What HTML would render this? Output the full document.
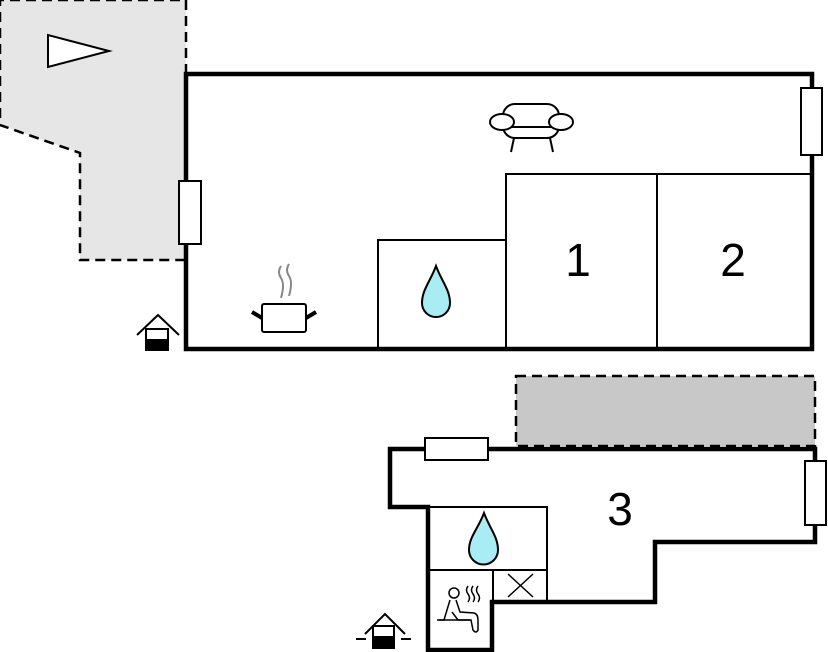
<!DOCTYPE html>
<html><head><meta charset="utf-8"><style>html,body{margin:0;padding:0;background:#fff}svg{display:block}</style></head>
<body>
<svg width="828" height="652" viewBox="0 0 828 652" xmlns="http://www.w3.org/2000/svg" font-family="Liberation Sans, sans-serif">
<!-- terrace top-left -->
<polygon points="0,0 186,0 186,260 80,260 80,153 0,125" fill="#e6e6e6"/>
<polyline points="186,74 186,0 0,0 0,125 80,153 80,260 186,260" fill="none" stroke="#000" stroke-width="2.5" stroke-dasharray="10,6"/>
<polygon points="48,35 48,67 109,51" fill="#fff" stroke="#000" stroke-width="2"/>
<!-- top building -->
<rect x="186" y="74" width="626" height="275" fill="#fff" stroke="#000" stroke-width="4.5"/>
<rect x="378" y="240" width="128" height="109" fill="none" stroke="#000" stroke-width="2"/>
<rect x="506" y="174" width="151" height="175" fill="none" stroke="#000" stroke-width="2"/>
<rect x="657" y="174" width="155" height="175" fill="none" stroke="#000" stroke-width="2"/>
<rect x="179" y="181" width="22" height="63" fill="#fff" stroke="#000" stroke-width="2"/>
<rect x="801" y="88" width="21" height="67" fill="#fff" stroke="#000" stroke-width="2"/>
<text x="578" y="276" font-size="46" text-anchor="middle">1</text>
<text x="733" y="276" font-size="46" text-anchor="middle">2</text>
<!-- sofa -->
<g fill="#fff" stroke="#000" stroke-width="2">
<rect x="503" y="104" width="56" height="34" rx="12"/>
<line x1="507" y1="127" x2="555" y2="127"/>
<ellipse cx="502" cy="122" rx="12" ry="8"/>
<ellipse cx="561" cy="122" rx="12" ry="8"/>
<line x1="514" y1="138" x2="511" y2="152"/>
<line x1="550" y1="138" x2="553" y2="152"/>
</g>
<!-- pot -->
<g stroke="#000" stroke-width="2" fill="#fff">
<rect x="262" y="304" width="44" height="28" rx="2"/>
<line x1="252" y1="312" x2="262" y2="318" stroke-width="4"/>
<line x1="316" y1="312" x2="306" y2="318" stroke-width="4"/>
</g>
<path d="M281,266 q-4,6 0,12 q4,6 0,20 M289,264 q-4,6 0,12 q4,6 0,20" fill="none" stroke="#888" stroke-width="2"/>
<!-- drop -->
<path d="M436,266 C430,282 422,290 422,303 A14,14 0 0 0 450,303 C450,290 442,282 436,266 Z" fill="#a8ecf4" stroke="#000" stroke-width="2"/>
<!-- entrance icon 1 -->
<g stroke="#000" stroke-width="2" fill="none">
<polyline points="137,335 158,315 179,335"/>
<rect x="146" y="329" width="22" height="21" fill="#fff"/>
<rect x="146" y="340" width="22" height="10" fill="#000"/>
</g>
<!-- bottom terrace -->
<rect x="516" y="376" width="299" height="70" fill="#c8c8c8" stroke="#000" stroke-width="2.5" stroke-dasharray="10,6"/>
<!-- bottom building -->
<polygon points="390,449 815,449 815,542 655,542 655,602 492,602 492,650 428,650 428,507 390,507" fill="#fff" stroke="#000" stroke-width="4.5"/>
<rect x="428" y="507" width="119" height="63" fill="none" stroke="#000" stroke-width="2"/>
<rect x="428" y="570" width="65" height="80" fill="none" stroke="#000" stroke-width="2"/>
<rect x="493" y="570" width="54" height="32" fill="none" stroke="#000" stroke-width="2"/>
<line x1="508" y1="574" x2="533" y2="597" stroke="#000" stroke-width="1.5"/>
<line x1="533" y1="574" x2="508" y2="597" stroke="#000" stroke-width="1.5"/>
<rect x="425" y="438" width="63" height="22" fill="#fff" stroke="#000" stroke-width="2"/>
<rect x="805" y="461" width="21" height="64" fill="#fff" stroke="#000" stroke-width="2"/>
<text x="620" y="525" font-size="46" text-anchor="middle">3</text>
<path d="M484,513 C478,529 469,537 469,550 A14,14 0 0 0 498,550 C498,537 490,529 484,513 Z" fill="#a8ecf4" stroke="#000" stroke-width="2"/>
<!-- sauna person -->
<g fill="none" stroke="#000" stroke-width="1.5">
<circle cx="454" cy="593" r="5"/>
<path d="M450,600 L444,620 L439,620 M456,600 L460,612 L474,613 Q478,614 478,620 L478,630 Q476,634 473,630 L471,620 L458,620 L452,612"/>
<line x1="437" y1="620" x2="470" y2="620"/>
<path d="M468,586 q-3,4 0,8 q3,4 0,8 M473,586 q-3,4 0,8 q3,4 0,8 M478,586 q-3,4 0,8 q3,4 0,8"/>
</g>
<!-- entrance icon 2 -->
<g stroke="#000" stroke-width="2" fill="none">
<polyline points="365,634 385,614 405,634"/>
<rect x="373" y="626" width="21" height="22" fill="#fff"/>
<rect x="373" y="637" width="21" height="11" fill="#000"/>
<line x1="356" y1="639" x2="366" y2="639"/>
<line x1="401" y1="639" x2="411" y2="639"/>
</g>
</svg>
</body></html>
